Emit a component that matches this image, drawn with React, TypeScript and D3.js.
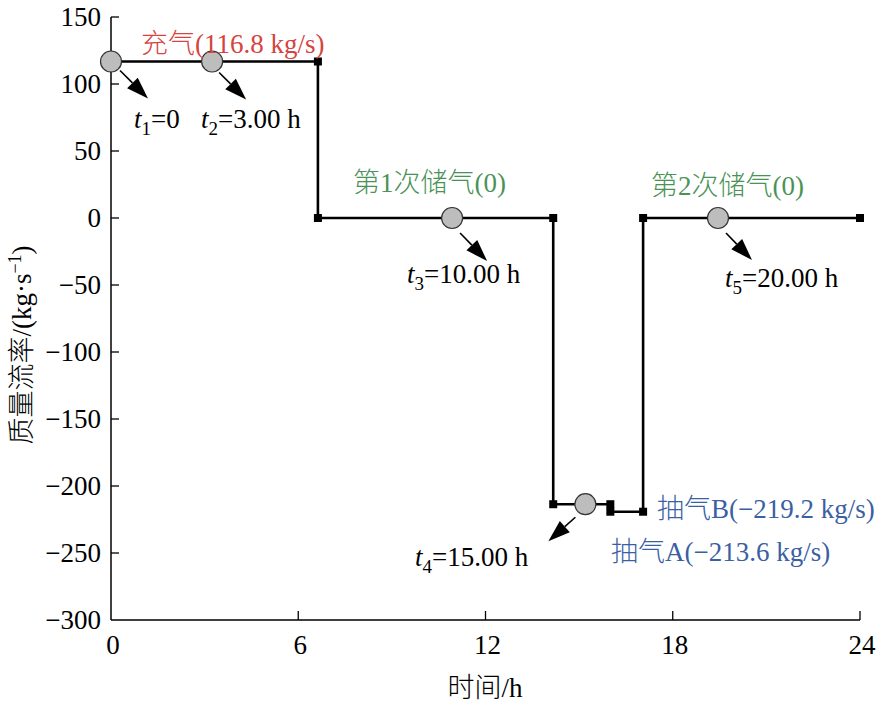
import React from "react";
import * as d3 from "d3";

// ---- data ----
const stepX = [0, 6.63, 6.63, 14.17, 14.17, 16.0, 16.0, 17.05, 17.05, 24];
const stepY = [116.8, 116.8, 0, 0, -213.6, -213.6, -219.2, -219.2, 0, 0];
const circleX = [0, 3.24, 10.93, 15.2, 19.45];
const circleY = [116.8, 116.8, 0, -213.6, 0];
const timeSubs = ["1", "2", "3", "4", "5"];
const timeVals = ["0", "3.00 h", "10.00 h", "15.00 h", "20.00 h"];
const xTicks = [0, 6, 12, 18, 24];
const yTicks = [150, 100, 50, 0, -50, -100, -150, -200, -250, -300];
const phaseCn = ["充气", "第", "第", "抽气", "抽气"];
const phaseRest = ["(116.8 kg/s)", "1", "2", "B(−219.2 kg/s)", "A(−213.6 kg/s)"];
const phaseCn2 = ["", "次储气", "次储气", "", ""];
const phaseTail = ["", "(0)", "(0)", "", ""];

// ---- layout (pixel offsets for annotations) ----
const arrowOff = [
  [9, 9, 37, 37],
  [7, 11, 34, 38],
  [8, 15, 35, 43],
  [-10, 13, -37, 37],
  [8, 15, 34, 42],
];
const tLabelPos = [
  [134, 128],
  [201, 128],
  [407, 283],
  [415, 566],
  [725, 287],
];
const phasePos = [
  [141, 53],
  [353, 192],
  [651, 195],
  [657, 518],
  [611, 561],
];
const phaseColors = ["#d5443f", "#4a9357", "#4a9357", "#3b5fa3", "#3b5fa3"];

const serif = '"Liberation Serif"';
const cjk = '"Noto Sans CJK SC"';
const sty = { fontFamily: serif };
const cjkSty = { fontFamily: cjk, fontWeight: 300 as const };

export default function App() {
  const W = 884, H = 725;
  const x = d3.scaleLinear().domain([0, 24]).range([111, 860]);
  const y = d3.scaleLinear().domain([-300, 150]).range([620, 17]);
  const line = d3
    .line<number>()
    .x((_, i) => x(stepX[i]))
    .y((_, i) => y(stepY[i]));
  const idx = stepX.map((_, i) => i);

  return (
    <svg width={W} height={H} style={{ position: "absolute", left: 0, top: 0, background: "#fff", fontFamily: serif }}>
      {/* axes */}
      <line x1={x(0)} x2={x(0)} y1={y(150)} y2={y(-300)} stroke="#000" strokeWidth={1.5} />
      <line x1={x(0)} x2={x(24)} y1={y(-300)} y2={y(-300)} stroke="#000" strokeWidth={1.5} />
      {yTicks.map((t) => (
        <g key={"y" + t}>
          {t !== -300 && <line x1={x(0)} x2={x(0) + 8} y1={y(t)} y2={y(t)} stroke="#000" strokeWidth={1.3} />}
          <text x={101} y={y(t) + 9} textAnchor="end" fontSize={27} style={sty}>
            {t < 0 ? "−" + Math.abs(t) : t}
          </text>
        </g>
      ))}
      {xTicks.map((t) => (
        <g key={"x" + t}>
          {t !== 0 && <line x1={x(t)} x2={x(t)} y1={y(-300)} y2={y(-300) - 9} stroke="#000" strokeWidth={1.3} />}
          <text x={x(t) + 2} y={654} textAnchor="middle" fontSize={27} style={sty}>
            {t}
          </text>
        </g>
      ))}
      {/* axis titles */}
      <text x={485} y={697} textAnchor="middle" fontSize={27} style={sty}>
        <tspan style={cjkSty}>时间</tspan>/h
      </text>
      <text transform={`translate(31,${345}) rotate(-90)`} textAnchor="middle" fontSize={27} style={sty}>
        <tspan style={cjkSty}>质量流率</tspan>/(kg·s<tspan dy={-10} fontSize={18}>−1</tspan>
        <tspan dy={10}>)</tspan>
      </text>
      {/* step line */}
      <path d={line(idx) || ""} fill="none" stroke="#000" strokeWidth={2.6} />
      {idx.slice(1).map((i) => (
        <rect key={"m" + i} x={x(stepX[i]) - 4} y={y(stepY[i]) - 4} width={8} height={8} fill="#000" />
      ))}
      {/* circles and arrows */}
      {circleX.map((cx, i) => {
        const px = x(cx), py = y(circleY[i]);
        const o = arrowOff[i];
        const x1 = px + o[0], y1 = py + o[1], x2 = px + o[2], y2 = py + o[3];
        const ang = Math.atan2(y2 - y1, x2 - x1);
        const L = 22, Wd = 7.5;
        const bx = x2 - L * Math.cos(ang), by = y2 - L * Math.sin(ang);
        const nx = -Math.sin(ang), ny = Math.cos(ang);
        const head = `M${x2},${y2} L${bx + nx * Wd},${by + ny * Wd} L${bx - nx * Wd},${by - ny * Wd} Z`;
        return (
          <g key={"c" + i}>
            <line x1={x1} y1={y1} x2={bx} y2={by} stroke="#000" strokeWidth={1.6} />
            <path d={head} fill="#000" />
            <circle cx={px} cy={py} r={10.5} fill="#bdbdbd" stroke="#333" strokeWidth={1.2} />
          </g>
        );
      })}
      {/* time labels */}
      {timeSubs.map((s, i) => (
        <text key={"t" + i} x={tLabelPos[i][0]} y={tLabelPos[i][1]} fontSize={27} style={sty}>
          <tspan fontStyle="italic">t</tspan>
          <tspan dy={7} fontSize={19}>{s}</tspan>
          <tspan dy={-7}>={timeVals[i]}</tspan>
        </text>
      ))}
      {/* phase labels */}
      {phaseCn.map((p, i) => (
        <text key={"p" + i} x={phasePos[i][0]} y={phasePos[i][1]} fontSize={27} fill={phaseColors[i]} style={sty}>
          <tspan style={cjkSty}>{p}</tspan>
          {phaseRest[i]}
          {phaseCn2[i] && <tspan style={cjkSty}>{phaseCn2[i]}</tspan>}
          {phaseTail[i]}
        </text>
      ))}
    </svg>
  );
}
